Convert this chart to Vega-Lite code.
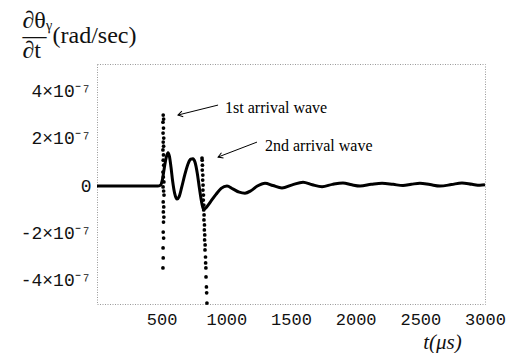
{
  "$schema": "https://vega.github.io/schema/vega-lite/v6.json",
  "width": 388,
  "height": 240,
  "autosize": {"type": "none"},
  "padding": {"left": 97, "top": 64, "right": 28, "bottom": 49},
  "background": "white",
  "config": {
    "view": {"stroke": "#999", "strokeDash": [1, 1.5], "strokeWidth": 1},
    "axis": {
      "labelFont": "Liberation Mono",
      "labelFontSize": 17,
      "labelColor": "#111",
      "domain": false,
      "ticks": false,
      "tickSize": 0,
      "grid": false,
      "titleColor": "#111",
      "titleFontWeight": "normal"
    }
  },
  "datasets": {
    "curve": [
      {"t": 0, "v": 0}, {"t": 470, "v": 0}, {"t": 490, "v": 0.03e-7}, {"t": 505, "v": 0.25e-7},
      {"t": 520, "v": 0.75e-7}, {"t": 535, "v": 1.2e-7}, {"t": 549, "v": 1.4e-7}, {"t": 560, "v": 1.25e-7},
      {"t": 572, "v": 0.8e-7}, {"t": 585, "v": 0.2e-7}, {"t": 600, "v": -0.3e-7}, {"t": 619, "v": -0.55e-7},
      {"t": 635, "v": -0.45e-7}, {"t": 655, "v": -0.05e-7}, {"t": 680, "v": 0.5e-7}, {"t": 705, "v": 0.95e-7},
      {"t": 725, "v": 1.13e-7}, {"t": 742, "v": 1.15e-7}, {"t": 758, "v": 1.0e-7}, {"t": 775, "v": 0.55e-7},
      {"t": 792, "v": -0.1e-7}, {"t": 808, "v": -0.65e-7}, {"t": 820, "v": -0.93e-7}, {"t": 830, "v": -0.97e-7},
      {"t": 850, "v": -0.87e-7}, {"t": 880, "v": -0.65e-7}, {"t": 920, "v": -0.35e-7}, {"t": 960, "v": -0.1e-7},
      {"t": 1005, "v": 0.0}, {"t": 1050, "v": -0.12e-7}, {"t": 1100, "v": -0.26e-7}, {"t": 1144, "v": -0.3e-7},
      {"t": 1190, "v": -0.2e-7}, {"t": 1240, "v": 0.0}, {"t": 1299, "v": 0.12e-7}, {"t": 1360, "v": 0.02e-7},
      {"t": 1430, "v": -0.08e-7}, {"t": 1510, "v": 0.05e-7}, {"t": 1593, "v": 0.16e-7}, {"t": 1665, "v": 0.05e-7},
      {"t": 1740, "v": -0.03e-7}, {"t": 1820, "v": 0.07e-7}, {"t": 1902, "v": 0.13e-7}, {"t": 1970, "v": 0.05e-7},
      {"t": 2034, "v": 0.0}, {"t": 2120, "v": 0.07e-7}, {"t": 2204, "v": 0.12e-7}, {"t": 2290, "v": 0.07e-7},
      {"t": 2366, "v": 0.02e-7}, {"t": 2430, "v": 0.07e-7}, {"t": 2497, "v": 0.12e-7}, {"t": 2575, "v": 0.06e-7},
      {"t": 2652, "v": 0.0}, {"t": 2740, "v": 0.06e-7}, {"t": 2822, "v": 0.13e-7}, {"t": 2900, "v": 0.07e-7},
      {"t": 2961, "v": 0.03e-7}, {"t": 3000, "v": 0.05e-7}
    ],
    "dots": [
      {"t": 512, "v": 2.99e-7}, {"t": 515, "v": 2.82e-7}, {"t": 510, "v": 2.69e-7}, {"t": 514, "v": 2.44e-7},
      {"t": 511, "v": 2.23e-7}, {"t": 516, "v": 2.02e-7}, {"t": 512, "v": 1.85e-7}, {"t": 515, "v": 1.68e-7},
      {"t": 510, "v": 1.52e-7}, {"t": 514, "v": 1.31e-7}, {"t": 512, "v": 1.09e-7}, {"t": 516, "v": 0.88e-7},
      {"t": 510, "v": 0.59e-7}, {"t": 513, "v": 0.38e-7}, {"t": 517, "v": 0.17e-7}, {"t": 511, "v": -0.04e-7},
      {"t": 515, "v": -0.21e-7}, {"t": 518, "v": -0.38e-7}, {"t": 512, "v": -0.67e-7}, {"t": 516, "v": -0.88e-7},
      {"t": 513, "v": -1.09e-7}, {"t": 517, "v": -1.31e-7}, {"t": 514, "v": -1.52e-7}, {"t": 512, "v": -1.94e-7},
      {"t": 515, "v": -2.19e-7}, {"t": 511, "v": -2.61e-7}, {"t": 512, "v": -3.03e-7}, {"t": 510, "v": -3.45e-7},
      {"t": 812, "v": 1.18e-7}, {"t": 813, "v": 1.09e-7}, {"t": 815, "v": 0.88e-7}, {"t": 814, "v": 0.67e-7},
      {"t": 818, "v": 0.46e-7}, {"t": 817, "v": 0.25e-7}, {"t": 820, "v": 0.04e-7}, {"t": 819, "v": -0.17e-7},
      {"t": 823, "v": -0.38e-7}, {"t": 822, "v": -0.59e-7}, {"t": 826, "v": -0.8e-7}, {"t": 825, "v": -1.01e-7},
      {"t": 828, "v": -1.22e-7}, {"t": 827, "v": -1.43e-7}, {"t": 831, "v": -1.64e-7}, {"t": 830, "v": -1.85e-7},
      {"t": 833, "v": -2.06e-7}, {"t": 832, "v": -2.27e-7}, {"t": 836, "v": -2.48e-7}, {"t": 835, "v": -2.69e-7},
      {"t": 839, "v": -2.99e-7}, {"t": 840, "v": -3.24e-7}, {"t": 842, "v": -3.45e-7}, {"t": 843, "v": -3.83e-7},
      {"t": 846, "v": -4.25e-7}, {"t": 848, "v": -4.5e-7}, {"t": 850, "v": -4.93e-7}
    ],
    "notes": [
      {"label": "1st arrival wave", "t": 990, "v": 3.28e-7},
      {"label": "2nd arrival wave", "t": 1299, "v": 1.68e-7}
    ],
    "arrows": [
      {"name": "a1", "t": 626, "v": 2.99e-7, "t2": 936, "v2": 3.41e-7},
      {"name": "a2", "t": 936, "v": 1.22e-7, "t2": 1237, "v2": 1.85e-7}
    ],
    "zero": [{"a": 0}]
  },
  "encoding": {
    "x": {
      "field": "t",
      "type": "quantitative",
      "scale": {"domain": [0, 3000], "nice": false, "zero": false},
      "axis": {
        "values": [500, 1000, 1500, 2000, 2500, 3000],
        "format": "d",
        "labelPadding": 7,
        "labelFlush": false,
        "labelOverlap": false,
        "title": "t(μs)",
        "titleFont": "Liberation Serif",
        "titleFontStyle": "italic",
        "titleFontSize": 21,
        "titleX": 345,
        "titleY": 44,
        "titleAlign": "center",
        "titleBaseline": "alphabetic"
      }
    },
    "y": {
      "field": "v",
      "type": "quantitative",
      "scale": {"domain": [-4.97e-7, 5.14e-7], "nice": false, "zero": false},
      "axis": {
        "values": [-4e-7, -2e-7, 0, 2e-7, 4e-7],
        "labelExpr": "datum.value === 0 ? '0' : (datum.value < 0 ? '-' : '') + abs(round(datum.value * 1e7)) + '×10⁻⁷'",
        "labelPadding": 6,
        "labelFontSize": 18,
        "labelBaseline": "middle",
        "title": ["∂θᵧ", "―  (rad/sec)", "∂t"],
        "titleFont": "Liberation Serif",
        "titleFontSize": 24,
        "titleAngle": 0,
        "titleAlign": "left",
        "titleBaseline": "alphabetic",
        "titleLineHeight": 15,
        "titleX": -75,
        "titleY": -37
      }
    }
  },
  "layer": [
    {
      "data": {"name": "zero"},
      "mark": {"type": "rule", "color": "#777", "strokeWidth": 0.8, "strokeDash": [2, 2]},
      "encoding": {"x": {"datum": 0}, "x2": {"datum": 3000}, "y": {"datum": 0}}
    },
    {
      "data": {"name": "curve"},
      "mark": {"type": "line", "color": "#000", "strokeWidth": 3, "interpolate": "monotone"}
    },
    {
      "data": {"name": "dots"},
      "mark": {"type": "point", "filled": true, "color": "#000", "size": 14, "opacity": 1}
    },
    {
      "data": {"name": "notes"},
      "mark": {"type": "text", "align": "left", "baseline": "middle", "font": "Liberation Serif", "fontSize": 16, "color": "#000"},
      "encoding": {"text": {"field": "label"}}
    },
    {
      "data": {"name": "arrows"},
      "mark": {"type": "rule", "color": "#000", "strokeWidth": 1},
      "encoding": {"x2": {"field": "t2"}, "y2": {"field": "v2"}}
    },
    {
      "data": {"name": "arrows"},
      "transform": [{"filter": "datum.name === 'a1'"}],
      "mark": {"type": "point", "shape": "M 1 -0.6 L 0 0 L 1 0.6", "filled": false, "color": "#000", "strokeWidth": 1, "size": 90, "angle": -14, "opacity": 1}
    },
    {
      "data": {"name": "arrows"},
      "transform": [{"filter": "datum.name === 'a2'"}],
      "mark": {"type": "point", "shape": "M 1 -0.6 L 0 0 L 1 0.6", "filled": false, "color": "#000", "strokeWidth": 1, "size": 90, "angle": -21, "opacity": 1}
    }
  ]
}
